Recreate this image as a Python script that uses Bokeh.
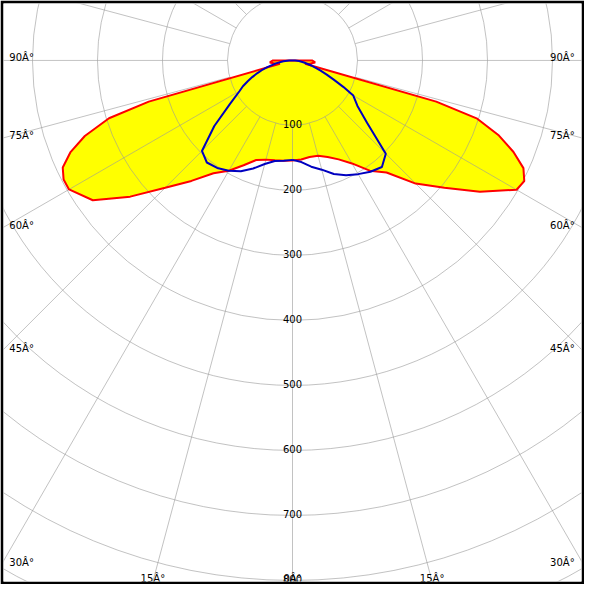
import numpy as np
from bokeh.plotting import figure
from bokeh.models import Range1d
from bokeh.core.properties import value
from bokeh.embed import file_html
from bokeh.resources import INLINE

# ---------------- data (cd/klm) ----------------
gamma = [0, 5, 10, 15, 20, 25, 30, 35, 40, 45, 50, 55, 60, 62.5, 65, 67.5,
         70, 72.5, 74, 75, 80, 85, 90]
red_left = [154, 155, 156, 158, 163, 178, 196, 212, 242, 277, 326, 375, 397, 397,
            390, 370, 340, 296, 230, 20, 28, 35, 30]
red_right = [154, 153, 151, 152, 158, 168, 183, 207, 225, 268, 305, 352, 398, 402,
             392, 368, 338, 298, 230, 20, 28, 35, 30]
blue_left = [153, 155, 157, 165, 177, 188, 196, 202, 205, 197, 157, 118, 94, 86,
             76, 67, 58, 49, 44, 40, 26, 14, 5]
blue_right = [153, 157, 166, 174, 186, 195, 202, 209, 214, 203, 150, 122, 108, 88,
              70, 57, 46, 36, 32, 30, 18, 10, 4]

ring_values = [100, 200, 300, 400, 500, 600, 700, 800, 900]
ring_labels = ["100", "200", "300", "400", "500", "600", "700", "800"]
side_angles = [90, 75, 60, 45, 30]
side_labels = ["90Â°", "75Â°", "60Â°", "45Â°", "30Â°"]
bottom_angles = [-15, 0, 15]
bottom_labels = ["15Â°", "0Â°", "15Â°"]

# ---------------- layout ----------------
S = 0.668          # reference pixels per cd
CX, CY = 300.0, 61.5
W = 584
B = 3
FONT = value("DejaVu Sans")

p = figure(width=W, height=W, output_backend="svg", toolbar_location=None,
           x_axis_type=None, y_axis_type=None,
           x_range=Range1d((B - CX) / S, (600 - B - CX) / S),
           y_range=Range1d(-(600 - B - CY) / S, (CY - B) / S),
           min_border=B, border_fill_color="black", outline_line_color=None,
           background_fill_color="white")
p.grid.visible = False


def polar(g, r, side):
    t = np.radians(np.asarray(g, dtype=float))
    r = np.asarray(r, dtype=float)
    return side * r * np.sin(t), -r * np.cos(t)


# red curve (filled)
lx, ly = polar(gamma, red_left, -1)
rx, ry = polar(gamma, red_right, 1)
red_x = np.concatenate([lx, rx[::-1]])
red_y = np.concatenate([ly, ry[::-1]])
p.patch(red_x, red_y, fill_color="#FFFF00", line_color=None)

# grid
p.circle(x=[0] * len(ring_values), y=[0] * len(ring_values), radius=ring_values,
         fill_color=None, line_color="#9a9a9a", line_alpha=0.6, line_width=1)
ang = np.radians(np.arange(0, 360, 15))
p.segment(x0=100 * np.sin(ang), y0=-100 * np.cos(ang),
          x1=1200 * np.sin(ang), y1=-1200 * np.cos(ang),
          line_color="#9a9a9a", line_alpha=0.6, line_width=1)

# outlines
p.line(np.append(red_x, red_x[0]), np.append(red_y, red_y[0]),
       line_color="#FF0000", line_width=2)
blx, bly = polar(gamma, blue_left, -1)
brx, bry = polar(gamma, blue_right, 1)
p.line(np.concatenate([blx, brx[::-1]]), np.concatenate([bly, bry[::-1]]),
       line_color="#0000C0", line_width=2)

# ring labels
p.text(x=[0] * len(ring_labels),
       y=[-(v - 1.8 / S) for v in ring_values[:len(ring_labels)]],
       text=ring_labels, text_align="center", text_baseline="alphabetic",
       text_font=FONT, text_font_size="10px", text_color="black")

# side angle labels
dy = [300 / np.tan(np.radians(a)) if a < 90 else 0.0 for a in side_angles]
ys = [-(d - 3.5) / S for d in dy]
p.text(x=[(9 - CX) / S] * len(side_labels), y=ys, text=side_labels,
       text_align="left", text_baseline="alphabetic",
       text_font=FONT, text_font_size="10px", text_color="black")
p.text(x=[(590 - CX) / S] * len(side_labels), y=ys, text=side_labels,
       text_align="right", text_baseline="alphabetic",
       text_font=FONT, text_font_size="10px", text_color="black")

# bottom angle labels
bx = [(597 - CY) * np.tan(np.radians(a)) / S for a in bottom_angles]
p.text(x=bx, y=[-(593.5 - CY) / S] * len(bottom_labels), text=bottom_labels,
       text_align="center", text_baseline="alphabetic",
       text_font=FONT, text_font_size="10px", text_color="black")

open("out.html", "w").write(file_html(p, INLINE))
